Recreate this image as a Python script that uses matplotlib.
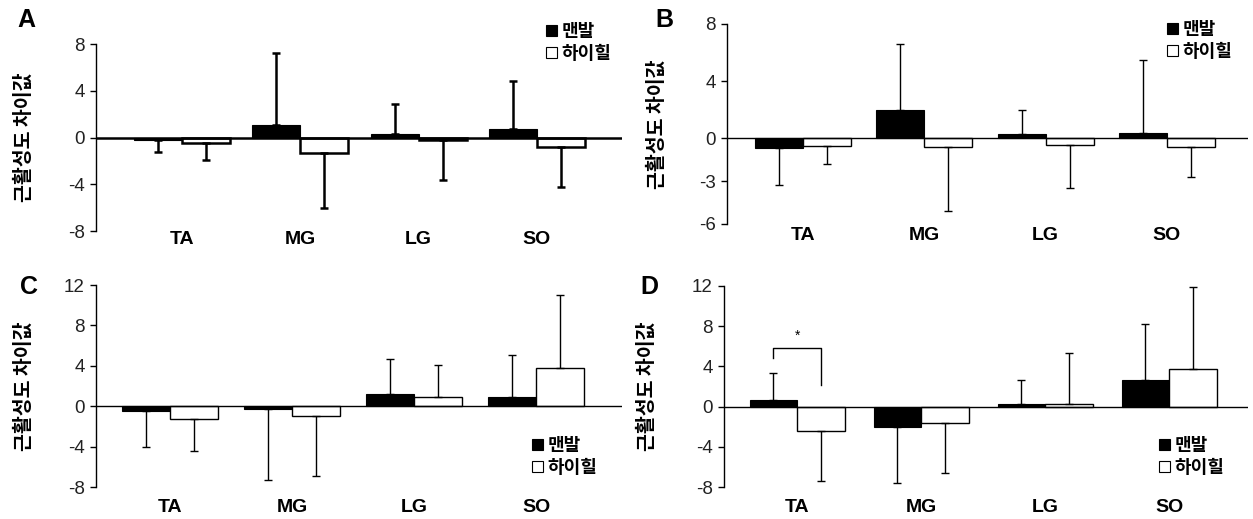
import numpy as np
import matplotlib
matplotlib.use("Agg")
import matplotlib.pyplot as plt

plt.rcParams['font.family'] = ['Liberation Sans', 'Noto Sans CJK KR', 'DejaVu Sans']

# ---------------- data ----------------
categories = ["TA", "MG", "LG", "SO"]
series_names = ["맨발", "하이힐"]
ylabel_text = "근활성도 차이값"

# panel A
a_bare_mean = [-0.25, 1.1, 0.3, 0.7]
a_bare_sd = [0.95, 6.1, 2.6, 4.1]
a_heel_mean = [-0.5, -1.3, -0.25, -0.8]
a_heel_sd = [1.4, 4.7, 3.35, 3.4]
a_ticks = [-8, -4, 0, 4, 8]

# panel B
b_bare_mean = [-0.7, 2.0, 0.3, 0.35]
b_bare_sd = [2.6, 4.6, 1.7, 5.15]
b_heel_mean = [-0.55, -0.6, -0.5, -0.6]
b_heel_sd = [1.25, 4.5, 3.0, 2.1]
b_ticks = [-6, -3, 0, 4, 8]

# panel C
c_bare_mean = [-0.5, -0.3, 1.2, 0.9]
c_bare_sd = [3.55, 7.0, 3.5, 4.2]
c_heel_mean = [-1.25, -1.0, 0.9, 3.8]
c_heel_sd = [3.15, 5.9, 3.15, 7.2]
c_ticks = [-8, -4, 0, 4, 8, 12]

# panel D
d_bare_mean = [0.7, -2.0, 0.25, 2.6]
d_bare_sd = [2.6, 5.6, 2.35, 5.6]
d_heel_mean = [-2.4, -1.6, 0.25, 3.7]
d_heel_sd = [5.0, 5.0, 5.05, 8.2]
d_ticks = [-8, -4, 0, 4, 8, 12]

# significance annotation in D (TA): bracket heights and label
sig_top = 5.8
sig_left_end = 4.8
sig_right_end = 2.1
sig_label = "*"
sig_label_y = 7.0

# ---------------- layout ----------------
W, H = 1253, 519
fig = plt.figure(figsize=(W / 100, H / 100), dpi=100)


def rect(l, r, top, bottom):
    return [l / W, 1 - bottom / H, (r - l) / W, (bottom - top) / H]


panels = [
    dict(letter="A", rect=rect(96, 622, 44, 231), ylim=(-8, 8), xlim=(-0.727, 3.72), width=0.406,
         bare=(a_bare_mean, a_bare_sd), heel=(a_heel_mean, a_heel_sd), ticks=a_ticks,
         lw=1.8, letter_xy=(17, 20), xpad=0.0, ylab_x=-0.118,
         leg_xy=(546, 22)),
    dict(letter="B", rect=rect(727, 1248, 24, 224), ylim=(-6, 8), xlim=(-0.626, 3.668), width=0.396,
         bare=(b_bare_mean, b_bare_sd), heel=(b_heel_mean, b_heel_sd), ticks=b_ticks,
         lw=1.0, letter_xy=(655, 20), xpad=2.0, ylab_x=-0.115,
         leg_xy=(1167, 20)),
    dict(letter="C", rect=rect(96, 622, 285, 487), ylim=(-8, 12), xlim=(-0.607, 3.705), width=0.39,
         bare=(c_bare_mean, c_bare_sd), heel=(c_heel_mean, c_heel_sd), ticks=c_ticks,
         lw=1.0, letter_xy=(20, 287), xpad=9.0, ylab_x=-0.118,
         leg_xy=(532, 436)),
    dict(letter="D", rect=rect(724, 1248, 286, 487), ylim=(-8, 12), xlim=(-0.589, 3.637), width=0.383,
         bare=(d_bare_mean, d_bare_sd), heel=(d_heel_mean, d_heel_sd), ticks=d_ticks,
         lw=1.0, letter_xy=(640, 287), xpad=9.0, ylab_x=-0.128,
         leg_xy=(1159, 436)),
]

x = np.arange(len(categories))

for p in panels:
    ax = fig.add_axes(p["rect"])
    lw = p["lw"]
    w = p["width"]
    handles = []
    for k, (vals, color) in enumerate([(p["bare"], "black"), (p["heel"], "white")]):
        mean = np.array(vals[0])
        sd = np.array(vals[1])
        pos = x - w / 2 if k == 0 else x + w / 2
        bars = ax.bar(pos, mean, width=w, color=color, edgecolor="black",
                      linewidth=lw if k == 1 else 0.8, zorder=2, label=series_names[k])
        handles.append(bars)
        lower = np.where(mean < 0, sd, 0.0)
        upper = np.where(mean >= 0, sd, 0.0)
        ax.errorbar(pos, mean, yerr=[lower, upper], fmt="none", ecolor="black",
                    elinewidth=lw, capsize=3.2, capthick=lw, zorder=3)
    ax.axhline(0, color="black", lw=lw, zorder=4)
    ax.set_xlim(*p["xlim"])
    ax.set_ylim(*p["ylim"])
    ax.set_yticks(p["ticks"])
    ax.set_yticklabels([str(t) for t in p["ticks"]], fontsize=13.5, color="#222222")
    ax.set_xticks(x)
    ax.set_xticklabels(categories, fontsize=14, fontweight="bold")
    ax.tick_params(axis="x", length=0, pad=p["xpad"])
    ax.tick_params(axis="y", length=4, width=1, pad=4, direction="out")
    for s in ["top", "right", "bottom"]:
        ax.spines[s].set_visible(False)
    ax.spines["left"].set_linewidth(1.0)
    ax.patch.set_alpha(0)
    ax.set_ylabel(ylabel_text, family=["Noto Sans CJK KR"], fontweight="bold", fontsize=14)
    ax.yaxis.set_label_coords(p["ylab_x"], 0.5)
    fig.text(p["letter_xy"][0] / W, 1 - p["letter_xy"][1] / H, p["letter"],
             fontsize=18, fontweight="bold", ha="left", va="center")
    leg = ax.legend(handles=handles, loc="upper left",
                    bbox_to_anchor=(p["leg_xy"][0] / W, 1 - p["leg_xy"][1] / H),
                    bbox_transform=fig.transFigure, frameon=False,
                    prop=dict(family=["Noto Sans CJK KR"], weight="bold", size=13),
                    handlelength=0.6, handleheight=0.6, handletextpad=0.25,
                    labelspacing=0.15, borderpad=0, borderaxespad=0)
    for hp in leg.legend_handles:
        hp.set_linewidth(0.8)
    if p["letter"] == "D":
        xl = x[0] - w / 2
        xr = x[0] + w / 2
        ax.plot([xl, xl, xr, xr], [sig_left_end, sig_top, sig_top, sig_right_end],
                color="black", lw=1.0, zorder=5)
        ax.text(x[0], sig_label_y, sig_label, ha="center", va="center", fontsize=10)

fig.savefig("out.png", dpi=100)
